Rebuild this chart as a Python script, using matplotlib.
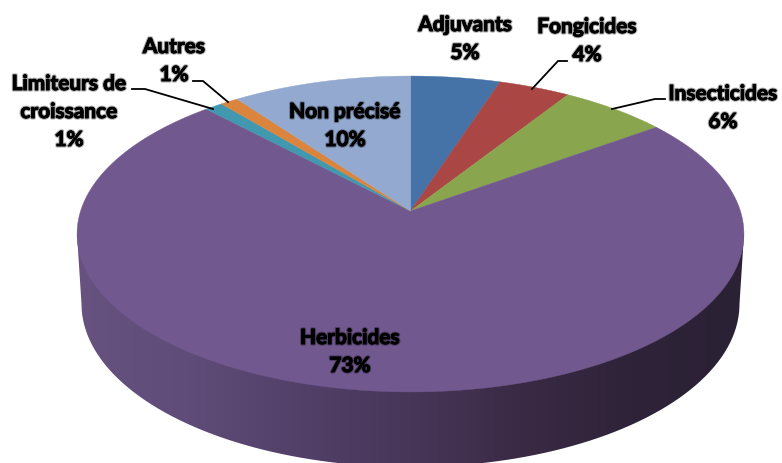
import numpy as np
import matplotlib
matplotlib.use('Agg')
import matplotlib.pyplot as plt
import matplotlib.patheffects as pe
from matplotlib.patches import Polygon, PathPatch
from matplotlib.path import Path

# Pie data, clockwise from the top
categories = ['Adjuvants', 'Fongicides', 'Insecticides', 'Herbicides',
              'Limiteurs de\ncroissance', 'Autres', 'Non précisé']
values = [5, 4, 6, 73, 1, 1, 10]
colors = ['#4572a7', '#aa4643', '#89a54e', '#71588f', '#4198af', '#db843d', '#93a9cf']

# Label centres in pixels
label_pos = [(465, 39), (587, 41), (723, 108), (350, 352), (69, 112), (174, 61), (345, 126)]

# Leader lines in pixels
leaders = {
    'Fongicides': [(567, 61), (558, 61), (532, 89)],
    'Insecticides': [(665, 99), (655, 99), (612, 109)],
    'Limiteurs': [(132, 89), (145, 89), (213, 109)],
    'Autres': [(193, 81), (203, 81), (228, 102)],
}

# Colours along the side wall, left to right
side_colors = ['#675280', '#5f4c78', '#524069', '#473658', '#3b2a45', '#2e2338', '#2b2135']

# Perspective disc: apex at (cx, cy), ellipse top at y=76, bottom at y=392
cx, cy = 410.5, 211
A, B, p = 329.9, 154.6, 0.1456


def project(theta):
    u, v = np.sin(theta), np.cos(theta)
    d = 1 + p * v
    return cx + A * u / d, cy - B * v / d


plt.rcParams['font.family'] = ['Lato', 'DejaVu Sans']
fig = plt.figure(figsize=(7.82, 4.63), dpi=100)
ax = fig.add_axes([0, 0, 1, 1])

# Side wall with a horizontal gradient, clipped to the silhouette
t = np.linspace(np.pi, 0, 200)
side_x = np.concatenate([[77], 410.5 + 329 * np.cos(t), [744]])
side_y = np.concatenate([[234], 304 + 163 * np.sin(t), [234]])
side_patch = PathPatch(Path(np.column_stack([side_x, side_y])), fc='none', ec='none')
ax.add_patch(side_patch)
cmap = matplotlib.colors.LinearSegmentedColormap.from_list('side', side_colors)
im = ax.imshow(np.linspace(0, 1, 256).reshape(1, -1), cmap=cmap, aspect='auto',
               extent=(77, 744, 470, 230), zorder=1)
im.set_clip_path(side_patch)
ax.set_xlim(0, 782)
ax.set_ylim(463, 0)
ax.axis('off')

# Top face wedges
start = 0
total = sum(values)
for val, col in zip(values, colors):
    a0 = 2 * np.pi * start / total
    a1 = 2 * np.pi * (start + val) / total
    th = np.linspace(a0, a1, 200)
    x, y = project(th)
    pts = np.column_stack([np.r_[cx, x], np.r_[cy, y]])
    ax.add_patch(Polygon(pts, closed=True, fc=col, ec=col, lw=0.3, zorder=2))
    start += val

for pts in leaders.values():
    xs, ys = zip(*pts)
    ax.plot(xs, ys, color='black', lw=1.3, zorder=3, solid_joinstyle='round')

glow = [pe.withStroke(linewidth=2.2, foreground='#00000055'),
        pe.withStroke(linewidth=0.7, foreground='black')]
for name, val, pos in zip(categories, values, label_pos):
    ax.text(pos[0], pos[1], f'{name}\n{val}%', ha='center', va='center', fontsize=15,
            fontweight='bold', color='black', linespacing=1.5, zorder=4, path_effects=glow)

fig.savefig('out.png', dpi=100)
